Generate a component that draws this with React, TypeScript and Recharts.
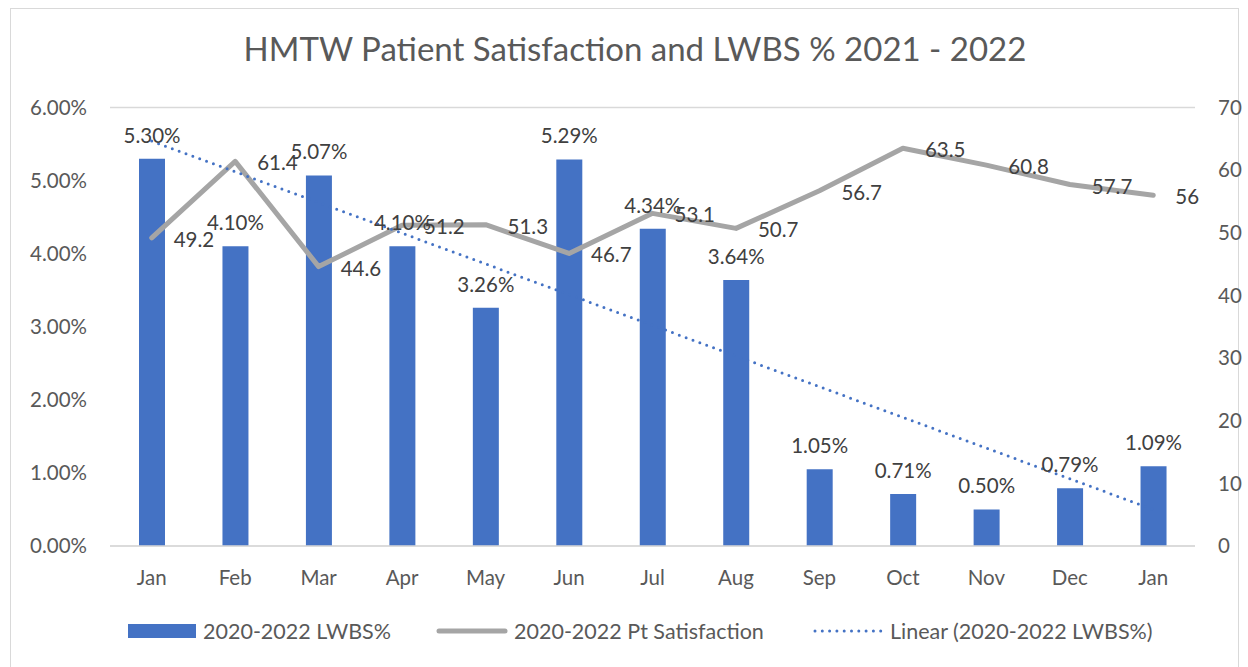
import React from 'react';
import { ComposedChart, Bar, Line, XAxis, YAxis, CartesianGrid, LabelList, Legend } from 'recharts';

const months = ['Jan', 'Feb', 'Mar', 'Apr', 'May', 'Jun', 'Jul', 'Aug', 'Sep', 'Oct', 'Nov', 'Dec', 'Jan'];
const lwbs = [5.30, 4.10, 5.07, 4.10, 3.26, 5.29, 4.34, 3.64, 1.05, 0.71, 0.50, 0.79, 1.09];
const satisfaction = [49.2, 61.4, 44.6, 51.2, 51.3, 46.7, 53.1, 50.7, 56.7, 63.5, 60.8, 57.7, 56];
// linear trendline of LWBS% (endpoints)
const trendline: (number | null)[] = [5.54, null, null, null, null, null, null, null, null, null, null, null, 0.50];
const leftTicks = [0, 1, 2, 3, 4, 5, 6];
const rightTicks = [0, 10, 20, 30, 40, 50, 60, 70];

const FONT = 'Lato, "Open Sans", sans-serif';
const BLUE = '#4472c4';
const GRAY = '#a5a5a5';
const TEXT = '#595959';
const LABEL = '#404040';
const FS = 20.5;

const data = months.map((m, i) => ({
  key: `${m}-${i}`,
  lwbs: lwbs[i],
  sat: satisfaction[i],
  trend: trendline[i],
}));

const BarLabel = (props: any) => {
  const { x, y, width, value } = props;
  return (
    <text x={x + width / 2} y={y - 24} textAnchor="middle" dominantBaseline="central"
      fill={LABEL} fontSize={FS} fontFamily={FONT}>
      {Number(value).toFixed(2)}%
    </text>
  );
};

const LineLabel = (props: any) => {
  const { x, y, value } = props;
  return (
    <text x={x + 22} y={y + 1} textAnchor="start" dominantBaseline="central"
      fill={LABEL} fontSize={FS} fontFamily={FONT}>
      {value}
    </text>
  );
};

const LegendContent = () => (
  <div style={{ position: 'relative', height: 24, width: 1248, fontFamily: FONT, fontSize: 21.5, color: TEXT }}>
    <div style={{ position: 'absolute', left: 128, top: 0, display: 'flex', alignItems: 'center', height: 24 }}>
      <div style={{ width: 68, height: 14, background: BLUE, marginRight: 7 }} />
      <span>2020-2022 LWBS%</span>
    </div>
    <div style={{ position: 'absolute', left: 436, top: 0, display: 'flex', alignItems: 'center', height: 24 }}>
      <svg width={72} height={10} style={{ marginRight: 6 }}>
        <line x1={3} y1={5} x2={69} y2={5} stroke={GRAY} strokeWidth={5} strokeLinecap="round" />
      </svg>
      <span>2020-2022 Pt Satisfaction</span>
    </div>
    <div style={{ position: 'absolute', left: 813, top: 0, display: 'flex', alignItems: 'center', height: 24 }}>
      <svg width={70} height={10} style={{ marginRight: 7 }}>
        <line x1={2} y1={5} x2={68} y2={5} stroke={BLUE} strokeWidth={3} strokeDasharray="0 7.3" strokeLinecap="round" />
      </svg>
      <span>Linear (2020-2022 LWBS%)</span>
    </div>
  </div>
);

export default function App() {
  return (
    <div style={{ position: 'absolute', left: 0, top: 0, width: 1248, height: 667, background: '#fff', overflow: 'hidden' }}>
      <div style={{ position: 'absolute', left: 10, top: 8, width: 1229, height: 680, border: '1.5px solid #d9d9d9', boxSizing: 'border-box' }} />
      <div style={{ position: 'absolute', left: 0, top: 28, width: 1248, textAlign: 'center', fontFamily: FONT, fontSize: 33, color: TEXT }}>
        <span style={{ position: 'relative', left: 11 }}>HMTW Patient Satisfaction and LWBS % 2021 - 2022</span>
      </div>
      <div style={{ position: 'absolute', left: 0, top: 0 }}>
        <ComposedChart width={1248} height={667} data={data}
          margin={{ top: 107.5, right: 0, bottom: 67, left: 0 }} barSize={26}>
          <CartesianGrid vertical={false} stroke="#d9d9d9" strokeWidth={1.5} />
          <XAxis dataKey="key" tickFormatter={(_v: any, i: number) => months[i]} axisLine={{ stroke: '#d9d9d9', strokeWidth: 1.5 }}
            tickLine={false} tickMargin={18} height={30} interval={0}
            tick={{ fill: TEXT, fontSize: FS, fontFamily: FONT }} />
          <YAxis yAxisId="left" orientation="left" width={110} domain={[0, 6]} ticks={leftTicks}
            tickFormatter={(v: number) => `${v.toFixed(2)}%`} axisLine={false} tickLine={false} tickMargin={17}
            tick={{ fill: TEXT, fontSize: FS, fontFamily: FONT }} />
          <YAxis yAxisId="right" orientation="right" width={53} domain={[0, 70]} ticks={rightTicks}
            axisLine={false} tickLine={false} tickMargin={17}
            tick={{ fill: TEXT, fontSize: FS, fontFamily: FONT, textAnchor: 'start' }} />
          <Bar yAxisId="left" dataKey="lwbs" name="2020-2022 LWBS%" fill={BLUE} isAnimationActive={false}>
            <LabelList dataKey="lwbs" content={BarLabel} />
          </Bar>
          <Line yAxisId="right" dataKey="sat" name="2020-2022 Pt Satisfaction" stroke={GRAY} strokeWidth={5}
            strokeLinejoin="round" strokeLinecap="round" dot={false} activeDot={false} isAnimationActive={false}>
            <LabelList dataKey="sat" content={LineLabel} />
          </Line>
          <Line yAxisId="left" dataKey="trend" name="Linear (2020-2022 LWBS%)" stroke={BLUE} strokeWidth={3}
            strokeDasharray="0 7.3" strokeLinecap="round" connectNulls dot={false} activeDot={false} isAnimationActive={false} />
          <Legend verticalAlign="bottom" content={LegendContent} wrapperStyle={{ top: 619, left: 0, width: 1248, height: 24 }} />
        </ComposedChart>
      </div>
    </div>
  );
}
